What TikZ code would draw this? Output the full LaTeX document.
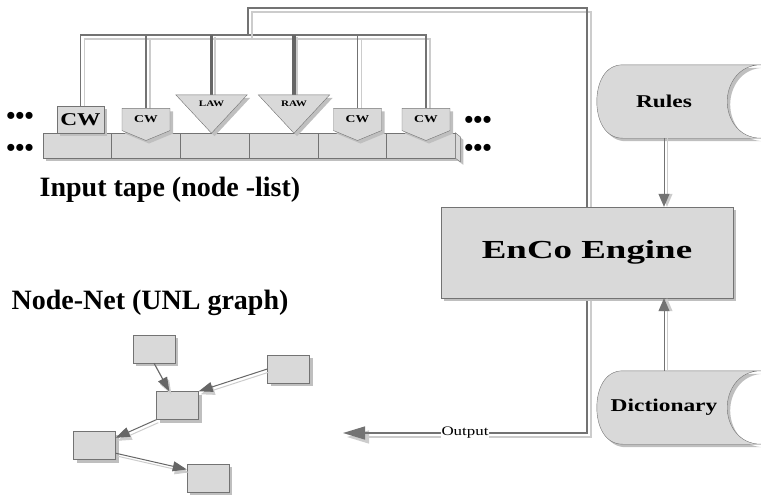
\documentclass[tikz,border=0pt]{standalone}
\usepackage{fontspec}
\setmainfont{Liberation Serif}
\newfontfamily\widefont[FakeStretch=1.3]{Liberation Serif}
\newfontfamily\enginefont[FakeStretch=1.42]{Liberation Serif}
\usetikzlibrary{arrows.meta, positioning, shapes.symbols, shadows, backgrounds}

\begin{document}
\begin{tikzpicture}[
    x=1pt, y=-1pt,
    boxshadow/.style={drop shadow={shadow xshift=3pt, shadow yshift=-3pt, fill=black!25, opacity=1}},
    cell/.style={rectangle, draw=black!55, fill=black!15, minimum width=68.7pt, minimum height=25pt, inner sep=0pt, boxshadow},
    cwbox/.style={rectangle, draw=black!55, fill=black!15, minimum width=47pt, minimum height=27pt, inner sep=0pt, boxshadow, font=\widefont\bfseries\fontsize{18}{18}\selectfont},
    cwtag/.style={signal, signal to=south, signal pointer angle=135, draw=black!55, fill=black!15, minimum width=48pt, minimum height=27pt, inner sep=0pt, boxshadow, font=\widefont\bfseries\fontsize{10.5}{10.5}\selectfont},
    trifield/.style={rectangle, minimum width=71pt, minimum height=38pt, inner sep=0pt},
    tritag/.style={draw=black!55, fill=black!15, boxshadow},
    small/.style={font=\widefont\bfseries\fontsize{8.5}{8.5}\selectfont, inner sep=0pt},
    title/.style={font=\bfseries\fontsize{28}{30}\selectfont},
    dots/.style={font=\bfseries\fontsize{26}{26}\selectfont, inner sep=0pt},
    engine/.style={rectangle, draw=black!55, fill=black!15, minimum width=292pt, minimum height=91pt, boxshadow, font=\enginefont\bfseries\fontsize{26}{26}\selectfont},
    store/.style={rectangle, minimum width=134pt, minimum height=73pt, inner sep=0pt, font=\widefont\bfseries\fontsize{18}{18}\selectfont},
    netbox/.style={rectangle, draw=black!55, fill=black!15, minimum width=42pt, minimum height=28pt, inner sep=0pt, boxshadow},
    outtext/.style={fill=white, inner sep=1pt, font=\widefont\fontsize{13}{13}\selectfont},
    wire/.style={draw=black!55, line width=1.3pt, preaction={draw=black!20, line width=1.3pt, transform canvas={shift={(4pt,-4pt)}}}},
    fatwire/.style={draw=black!60, line width=3.5pt, preaction={draw=black!20, line width=2pt, transform canvas={shift={(3pt,-2pt)}}}},
    feed/.style={draw=black!55, line width=1pt, -{Triangle[length=13pt, width=11pt]}, preaction={draw=black!20, line width=1pt, transform canvas={shift={(3pt,0pt)}}}},
    link/.style={draw=black!60, line width=1pt, -{Triangle[length=14pt, width=10pt]}, preaction={draw=black!20, line width=1pt, transform canvas={shift={(2pt,-3pt)}}}}
]
\useasboundingbox (0,0) rectangle (761,496);

% Input tape
\foreach \i in {0,...,5}
    \node[cell] (cell\i) at ({77.3+68.7*\i},145.5) {};
\draw[tritag] (cell5.north east) -- ++(5,4) -- ++(0,25) -- (cell5.south east) -- cycle;

\node[dots] (dotsa) at (20,118) {•••};
\node[dots] (dotsb) at (20,150) {•••};
\node[dots] (dotsc) at (478,122) {•••};
\node[dots] (dotsd) at (478,150) {•••};

% Markers on the tape
\node[cwbox] (cwbig) at (80.5,119.5) {CW};
\node[cwtag] (cw2) at (146,119.5) {CW};
\node[trifield] (law) at (211.5,114) {};
\node[trifield] (raw) at (294,114) {};
\node[cwtag] (cw5) at (357.5,119.5) {CW};
\node[cwtag] (cw6) at (426,119.5) {CW};
\draw[tritag] (law.north west) -- (law.north east) -- (law.south) -- cycle;
\draw[tritag] (raw.north west) -- (raw.north east) -- (raw.south) -- cycle;
\node[small] (lawtext) at ([yshift=-9pt]law.north) {LAW};
\node[small] (rawtext) at ([yshift=-9pt]raw.north) {RAW};

\node[title] (tapetitle) at (170,190) {Input tape (node -list)};

% Engine and stores
\node[engine] (engine) at (587,252.5) {EnCo Engine};
\node[store] (rules) at (664,101.5) {Rules};
\node[store] (dict) at (664,407.5) {Dictionary};

% Node-Net
\node[title] (nettitle) at (150,303) {Node-Net (UNL graph)};
\node[netbox] (n1) at (154,349) {};
\node[netbox] (n2) at (288.5,369) {};
\node[netbox] (n3) at (177.5,405.5) {};
\node[netbox] (n4) at (94.5,445.5) {};
\node[netbox] (n5) at (208,478) {};

\draw[link] (n1.south) -- (n3.120);
\draw[link] (n2.west) -- (n3.north east);
\draw[link] (n3.south west) -- (n4.20);
\draw[link] (n4.-20) -- (n5.158);

% Wires
\coordinate (bus) at (248,35);
\coordinate (top) at (248,8);
\coordinate (out) at (343,433);
\begin{pgfonlayer}{background}
\draw[wire] (cwbig.north) |- (bus) -| (cw6.north);
\draw[wire] (cw2.north) -- (cw2.north |- bus);
\draw[wire] (cw5.north) -- (cw5.north |- bus);
\draw[fatwire] (law.north) -- (law.north |- bus);
\draw[fatwire] (raw.north) -- (raw.north |- bus);
\draw[wire, -{Triangle[length=22pt, width=13pt]}] (bus) -- (top) -| (engine.north) -- (engine.south) |- (out);
\foreach \d in {rules, dict}
    \draw[tritag] ([xshift=26pt]\d.north west) -- ([xshift=30pt]\d.north east)
        .. controls ([xshift=7pt]\d.north east) and ([xshift=-4pt, yshift=17pt]\d.east) .. ([xshift=-4pt]\d.east)
        .. controls ([xshift=-4pt, yshift=-17pt]\d.east) and ([xshift=7pt]\d.south east) .. ([xshift=30pt]\d.south east)
        -- ([xshift=26pt]\d.south west)
        .. controls ([xshift=7pt]\d.south west) and ([yshift=-17pt]\d.west) .. (\d.west)
        .. controls ([yshift=17pt]\d.west) and ([xshift=7pt]\d.north west) .. cycle;
\end{pgfonlayer}
\node[outtext] (outlabel) at (465,433) {Output};

\draw[feed] (rules.south) -- (rules.south |- engine.north);
\draw[feed] (dict.north) -- (dict.north |- engine.south);

\end{tikzpicture}
\end{document}
